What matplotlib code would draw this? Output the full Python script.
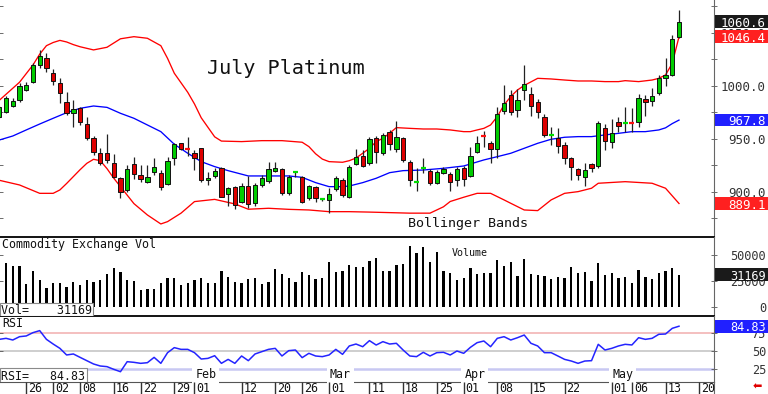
import numpy as np
import matplotlib
matplotlib.use("Agg")
import matplotlib.pyplot as plt
import matplotlib.transforms as mtransforms
from matplotlib.patches import Rectangle

plt.rcParams['font.family'] = ['DejaVu Sans Mono', 'DejaVu Sans']

# ---------------- data ----------------
opens = [970.4, 975.7, 981.1, 986.8, 996.2, 1004.1, 1019.8, 1026.1, 1012.5, 1002.5,
         985.2, 974.2, 978.9, 964.1, 950.6, 937.1, 936.4, 927.6, 913.5, 901.8,
         926.4, 916.0, 909.7, 919.1, 917.6, 907.5, 931.7, 945.9, 940.7, 937.1,
         941.2, 911.0, 915.1, 922.3, 898.1, 904.4, 890.9, 905.7, 889.3, 906.6,
         910.7, 920.1, 921.4, 898.7, 918.6, 914.5, 894.0, 904.4, 893.0, 892.5,
         902.5, 911.3, 895.6, 926.4, 934.0, 927.0, 950.6, 936.5, 956.9, 940.2,
         950.6, 928.6, 908.8, 922.0, 920.1, 908.2, 918.2, 917.0, 911.3, 922.3,
         915.1, 938.0, 953.3, 946.5, 940.2, 976.7, 991.5, 977.3, 996.2, 992.1,
         984.6, 971.1, 953.9, 950.6, 944.3, 931.7, 921.4, 914.4, 926.4, 924.8,
         960.0, 947.5, 966.0, 964.6, 965.3, 966.3, 987.7, 985.8, 993.1, 1007.2,
         1010.4, 1045.9]
highs = [981.1, 990.5, 988.3, 1003.1, 1004.1, 1022.0, 1033.9, 1031.4, 1015.7, 1007.2,
         994.6, 986.8, 980.5, 970.4, 952.8, 941.1, 954.7, 935.8, 914.4, 925.4,
         932.7, 925.4, 925.4, 931.7, 920.7, 933.3, 946.5, 946.5, 951.6, 939.6,
         941.2, 919.1, 922.3, 923.9, 904.4, 905.7, 908.2, 915.1, 908.2, 916.0,
         928.6, 928.6, 922.3, 916.0, 920.1, 915.1, 906.6, 905.7, 894.6, 903.5,
         915.1, 912.9, 925.0, 940.2, 939.6, 951.6, 952.8, 956.0, 958.5, 967.3,
         951.6, 930.2, 923.0, 931.7, 921.4, 920.7, 923.3, 919.2, 923.3, 924.5,
         942.1, 952.8, 957.9, 948.4, 979.9, 1001.0, 996.2, 996.9, 1019.8, 998.7,
         987.4, 973.6, 961.0, 960.7, 947.5, 933.3, 922.3, 927.0, 927.7, 967.0,
         964.1, 968.5, 971.1, 979.9, 978.9, 992.4, 991.5, 997.8, 1010.4, 1026.1,
         1048.1, 1071.7]
lows = [969.5, 974.8, 979.8, 985.2, 995.2, 1003.1, 1016.6, 1013.5, 1000.9, 983.6,
        972.6, 961.6, 963.2, 949.0, 934.9, 925.4, 927.6, 912.8, 894.0, 900.3,
        911.9, 909.7, 908.8, 916.0, 901.8, 906.6, 925.4, 939.6, 934.0, 920.8,
        909.7, 906.6, 912.9, 895.6, 886.8, 883.6, 889.3, 884.6, 886.8, 904.4,
        908.2, 919.2, 897.2, 897.2, 913.8, 889.9, 892.5, 890.9, 891.5, 880.5,
        901.3, 895.0, 894.0, 925.5, 923.3, 925.5, 927.6, 934.9, 939.6, 938.0,
        928.6, 905.6, 901.2, 918.2, 906.6, 907.5, 917.0, 901.2, 905.6, 905.6,
        913.8, 937.1, 942.1, 927.7, 931.7, 973.6, 972.6, 971.1, 986.8, 971.7,
        969.5, 952.2, 944.3, 936.5, 926.4, 911.3, 911.3, 905.6, 919.2, 922.3,
        939.6, 941.2, 956.9, 956.9, 956.9, 961.0, 971.7, 981.1, 991.5, 1000.0,
        1009.4, 1045.0]
closes = [979.8, 988.3, 986.1, 1000.0, 1000.9, 1019.8, 1028.3, 1016.6, 1005.0, 993.7,
          974.2, 978.3, 966.3, 950.6, 938.0, 927.6, 930.1, 914.4, 900.3, 921.3,
          916.9, 912.2, 914.4, 923.9, 905.0, 929.5, 945.2, 940.3, 940.4, 931.8,
          911.3, 912.9, 920.1, 895.6, 903.5, 887.7, 905.7, 888.7, 906.6, 912.9,
          921.4, 922.3, 898.7, 914.5, 919.2, 890.9, 905.7, 894.0, 893.2, 898.1,
          913.5, 897.2, 923.9, 932.7, 924.5, 949.7, 938.0, 953.8, 945.3, 951.6,
          930.2, 911.3, 909.2, 922.4, 908.2, 919.2, 921.4, 909.7, 921.4, 912.0,
          934.0, 946.5, 952.9, 940.2, 973.6, 983.6, 975.8, 986.8, 1001.6, 981.1,
          975.8, 953.8, 954.2, 943.7, 931.7, 923.2, 916.0, 920.7, 922.3, 965.4,
          948.4, 955.3, 962.2, 965.0, 964.9, 988.3, 984.6, 990.5, 1007.2, 1010.4,
          1044.0, 1060.6]

volume = [37400, 42300, 39700, 39700, 22100, 34800, 26000, 18500, 23400, 22700,
          19400, 24300, 21100, 25600, 24300, 26000, 32200, 37700, 33500, 26000,
          24700, 16200, 17500, 16800, 22700, 28300, 27600, 21100, 22700, 25600,
          27600, 22700, 23000, 34800, 28900, 24300, 23400, 26600, 27600, 22400,
          23700, 36400, 31500, 27600, 23700, 33500, 31200, 27000, 28300, 43300,
          33800, 34800, 40400, 39100, 39100, 44600, 47900, 35100, 35100, 40700,
          41700, 59300, 52800, 58600, 43300, 53700, 35100, 33200, 25600, 28300,
          37400, 31500, 32500, 32500, 45600, 39400, 43600, 29900, 46600, 32200,
          31200, 30200, 26600, 28900, 27900, 39100, 32500, 33800, 25000, 42300,
          31200, 33200, 28300, 28900, 22700, 35800, 28900, 26600, 33200, 34800,
          38100, 31169]

rsi = [66.6, 68.0, 65.7, 70.3, 71.3, 75.9, 78.7, 66.6, 60.1, 54.1,
       44.9, 46.3, 41.6, 37.0, 32.4, 29.6, 28.7, 25.0, 21.7, 35.6,
       34.7, 33.3, 34.2, 41.6, 33.3, 48.1, 55.1, 52.7, 52.7, 48.1,
       39.3, 40.2, 43.9, 33.3, 38.8, 33.3, 43.5, 37.0, 46.3, 49.5,
       52.7, 54.1, 43.5, 50.9, 51.8, 41.2, 47.2, 43.5, 42.6, 44.9,
       52.7, 45.8, 57.4, 60.1, 56.4, 64.8, 58.7, 63.4, 60.1, 61.1,
       51.8, 43.5, 42.6, 48.6, 43.5, 48.1, 48.6, 44.9, 50.4, 47.2,
       55.5, 62.0, 64.3, 56.4, 68.0, 70.3, 65.7, 68.9, 72.6, 61.1,
       57.4, 48.1, 48.1, 43.5, 38.8, 36.5, 33.3, 36.5, 37.0, 59.7,
       51.8, 54.1, 57.4, 59.7, 58.8, 68.9, 66.6, 68.0, 73.6, 74.0,
       81.9, 84.83]

upper_x = [0, 3, 5, 6, 7, 8, 9, 10, 11, 12, 14, 16, 18, 20, 22, 24, 25, 26, 27, 28,
           29, 30, 31, 32, 33, 36, 39, 42, 45, 46, 47, 48, 49, 51, 52, 53, 54, 55, 56, 57,
           58, 59, 61, 63, 65, 67, 69, 70, 71, 72, 73, 74, 75, 76, 77, 78, 80, 82, 84, 86,
           88, 90, 92, 93, 95, 97, 98, 99, 100, 101]
upper_y = [986.5, 1003.5, 1019.8, 1030, 1038, 1041, 1043, 1041.5, 1039, 1037,
           1034, 1036.5, 1044.5, 1046.5, 1045, 1038, 1026, 1012, 1003, 994,
           983, 970, 961, 952, 948, 947.5, 948.4, 948.4, 946.9, 942.8,
           936, 931, 928.6, 928, 929.5, 932, 936.5, 941.2, 947.5, 950.6,
           955.4, 960.7, 960, 959.4, 959.4, 958.5, 956.9, 956.9, 958.5, 960,
           963.2, 971.1, 982.1, 990, 996.2, 1000.5, 1007.2, 1006.6, 1005.6, 1004.7,
           1004.7, 1004.1, 1004.1, 1005, 1004.1, 1005.6, 1007.2, 1010.4, 1021.4, 1046.4]

mid_x = [0, 2, 4, 6, 8, 10, 12, 14, 16, 18, 20, 22, 24, 26, 28, 30, 32, 34, 37, 40,
         43, 45, 47, 49, 51, 52, 54, 56, 58, 60, 63, 66, 69, 72, 74, 76, 78, 80, 82, 84,
         86, 88, 90, 92, 94, 96, 98, 99, 100, 101]
mid_y = [949, 952.8, 958.5, 964.1, 969.5, 974.8, 978.9, 981.1, 979.8, 974.2,
         969.5, 963.2, 956.9, 945, 936.5, 928.6, 923.9, 920.1, 915.1, 915.1,
         915.1, 913.8, 908.8, 905.0, 905.0, 905.6, 908.8, 912.9, 918.2, 920.1,
         920.7, 922.3, 924.5, 930.2, 933.3, 936.5, 941.2, 945.9, 949.7, 951.6,
         952.2, 952.2, 953.8, 955.3, 956.9, 956.9, 958.5, 960.5, 964.5, 967.8]

lower_x = [0, 3, 6, 8, 9, 10, 11, 12, 13, 14, 15, 16, 17, 18, 20, 22, 24, 25, 27, 29,
           32, 35, 37, 40, 43, 46, 49, 52, 55, 58, 61, 64, 66, 67, 69, 71, 73, 75, 76, 78,
           80, 82, 84, 86, 88, 89, 93, 97, 99, 101]
lower_y = [911, 906.6, 898.7, 898.7, 901.9, 908, 914.5, 921, 927, 930.8,
           929.5, 922, 913, 905, 889, 878.3, 869.8, 872, 880, 890.9,
           893, 888.7, 883.7, 884.6, 883.6, 883.0, 881.4, 881.4, 881, 880.5,
           880, 880, 886, 891, 895, 898.7, 898.7, 892.5, 889.3, 883.0,
           882.4, 892.5, 898.7, 900.3, 903.5, 908.2, 909.7, 908.2, 903.5, 889.1]

tick_pos = [4, 8, 12, 17, 21, 26, 29, 36, 41, 45, 49, 55, 60, 65, 69, 74, 79, 84, 91, 94, 99, 104]
tick_labels = ['26', '02', '08', '16', '22', '29', '01', '12', '20', '26', '01', '11',
               '18', '25', '01', '08', '15', '22', '01', '06', '13', '20']
month_pos = [29, 49, 69, 91]
month_labels = ['Feb', 'Mar', 'Apr', 'May']

price_ticks = [900, 950, 1000, 1050]
vol_ticks = [0, 25000, 50000]
rsi_ticks = [25, 50, 75]

title = 'July Platinum'
band_label = 'Bollinger Bands'
vol_title = 'Commodity Exchange Vol'

# ---------------- layout ----------------
W, H = 768, 394
XR = 714
fig = plt.figure(figsize=(W / 100, H / 100), dpi=100)
fig.patch.set_facecolor('white')


def rect(y0, y1, x0=0, x1=XR):
    return [x0 / W, 1 - y1 / H, (x1 - x0) / W, (y1 - y0) / H]


ax = fig.add_axes(rect(0, 237))
axv = fig.add_axes(rect(237, 316))
axr = fig.add_axes(rect(316, 382))
axd = fig.add_axes(rect(382, 394))

xlim = (0.1, 106.2)
for a in (ax, axv, axr, axd):
    a.set_xlim(*xlim)
    a.set_xticks([])
    a.spines['top'].set_visible(False)
    a.spines['left'].set_visible(False)
    a.spines['right'].set_color('#666666')
    a.spines['right'].set_linewidth(0.8)
    a.set_facecolor('none')

ax.spines['bottom'].set_color('black')
ax.spines['bottom'].set_linewidth(1.3)
axv.spines['bottom'].set_color('black')
axv.spines['bottom'].set_linewidth(1.3)
axr.spines['bottom'].set_color('#555555')
axr.spines['bottom'].set_linewidth(0.8)
axd.spines['bottom'].set_visible(False)

ax.set_ylim(857.5, 1081.1)
axv.set_ylim(-9300, 68100)
axr.set_ylim(7.4, 99.0)
axd.set_ylim(0, 1)
axd.set_yticks([])

ax.set_yticks(np.arange(875, 1080, 25))
axv.set_yticks(vol_ticks)
axr.set_yticks(rsi_ticks)
for a in (ax, axv, axr):
    a.tick_params(axis='y', left=True, right=True, direction='inout', length=4,
                  width=0.6, color='#555555', labelleft=False, labelright=False)

# ---------------- candles ----------------
n = len(closes)
xs = np.arange(n)
ax.vlines(xs, lows, highs, color='#222222', lw=0.9, zorder=3)
for i in range(n):
    o, c = opens[i], closes[i]
    if abs(c - o) < 1.0:
        col = '#00dd00' if c >= o else '#ff1010'
        ax.hlines((o + c) / 2, i - 0.38, i + 0.38, color=col, lw=1.6, zorder=4)
    else:
        col = '#00cc00' if c > o else '#dd0000'
        ax.add_patch(Rectangle((i - 0.32, min(o, c)), 0.64, abs(c - o),
                               facecolor=col, edgecolor='#111111', lw=0.7, zorder=4))

ax.plot(upper_x, upper_y, color='#ff0000', lw=0.95, zorder=2)
ax.plot(lower_x, lower_y, color='#ff0000', lw=0.95, zorder=2)
ax.plot(mid_x, mid_y, color='#0000ff', lw=0.95, zorder=2)

ax.text(207 / XR, (237 - 74) / 237, title, transform=ax.transAxes,
        fontsize=14.5, va='baseline', ha='left', color='#111111')
ax.text(408 / XR, (237 - 226.5) / 237, band_label, transform=ax.transAxes,
        fontsize=9.6, va='baseline', ha='left', color='#111111')

# ---------------- volume ----------------
axv.bar(xs, volume, width=0.34, color='black', zorder=3)
axv.text(2 / XR, (316 - 248.3) / 79, vol_title, transform=axv.transAxes,
         fontsize=8.4, va='baseline', ha='left', color='#111111')
axv.text(452 / XR, (316 - 256) / 79, 'Volume', transform=axv.transAxes,
         fontsize=7.2, va='baseline', ha='left', color='#111111')
axv.add_artist(Rectangle((0, 0), 93 / XR, 13 / 79, transform=axv.transAxes,
                         facecolor='white', edgecolor='#8a8a8a', lw=0.8, zorder=6))
axv.text(1 / XR, 6.5 / 79, 'Vol=    %d' % volume[-1], transform=axv.transAxes,
         fontsize=8.4, va='center_baseline', ha='left', color='#111111', zorder=7)

# ---------------- RSI ----------------
axr.axhline(75, color='#f2b4b4', lw=1.2, zorder=1)
axr.axhline(50, color='#c6c6c6', lw=1.2, zorder=1)
axr.axhline(25, color='#c8c8f2', lw=1.8, zorder=1)
axr.plot(xs, rsi, color='#2424ff', lw=1.1, zorder=3)
axr.text(2 / XR, (382 - 326.7) / 66, 'RSI', transform=axr.transAxes,
         fontsize=8.4, va='baseline', ha='left', color='#111111')
axr.add_artist(Rectangle((0, 0), 87 / XR, 14 / 66, transform=axr.transAxes,
                         facecolor='white', edgecolor='#8a8a8a', lw=0.8, zorder=6))
axr.text(1 / XR, 7 / 66, 'RSI=   %.2f' % rsi[-1], transform=axr.transAxes,
         fontsize=8.4, va='center_baseline', ha='left', color='#111111', zorder=7)
trm = mtransforms.blended_transform_factory(axr.transData, axr.transAxes)
for p, lab in zip(month_pos, month_labels):
    axr.text(p + 0.1, (382 - 378.3) / 66, lab, transform=trm, fontsize=8.4,
             va='baseline', ha='left', color='#111111', zorder=5,
             bbox=dict(boxstyle='square,pad=0.25', facecolor='white', edgecolor='none'))

# ---------------- date row ----------------
axd.vlines(tick_pos, 0, 1, color='#333333', lw=1.0)
for p, lab in zip(tick_pos, tick_labels):
    axd.text(p + 0.3, 0.5, lab, fontsize=8.4, va='center', ha='left', color='#111111')

# ---------------- right-hand labels ----------------
def right_labels(a, vals, fmt, fs):
    tr = mtransforms.blended_transform_factory(fig.transFigure, a.transData)
    for v in vals:
        a.text(766 / W, v, fmt % v, transform=tr, ha='right', va='center_baseline',
               fontsize=fs, color='#333333', clip_on=False, zorder=5)


def value_box(a, val, txt, fc, fs):
    tr = mtransforms.blended_transform_factory(fig.transFigure, a.transData)
    y0, y1 = a.get_ylim()
    hpx = a.get_position().height * H
    half = 6.3 * (y1 - y0) / hpx
    a.add_artist(Rectangle(((XR + 1) / W, val - half), 1 - (XR + 1) / W, 2 * half,
                           transform=tr, facecolor=fc, edgecolor='none',
                           clip_on=False, zorder=10))
    a.text(766 / W, val, txt, transform=tr, ha='right', va='center_baseline',
           fontsize=fs, color='white', clip_on=False, zorder=11)


right_labels(ax, price_ticks, '%.1f', 9)
right_labels(axv, vol_ticks, '%d', 8.6)
right_labels(axr, rsi_ticks, '%d', 8.6)

value_box(ax, closes[-1], '%.1f' % closes[-1], '#1a1a1a', 9)
value_box(ax, upper_y[-1], '%.1f' % upper_y[-1], '#ff2020', 9)
value_box(ax, mid_y[-1], '%.1f' % mid_y[-1], '#2020ff', 9)
value_box(ax, lower_y[-1], '%.1f' % lower_y[-1], '#ff2020', 9)
value_box(axv, volume[-1], '%d' % volume[-1], '#1a1a1a', 8.6)
value_box(axr, rsi[-1], '%.2f' % rsi[-1], '#2020ff', 8.6)

fig.text(757 / W, 1 - 387 / H, '\u2b05', color='#e00000', fontsize=8,
         family='DejaVu Sans', ha='center', va='center')

fig.savefig('out.png', dpi=100, facecolor='white')
